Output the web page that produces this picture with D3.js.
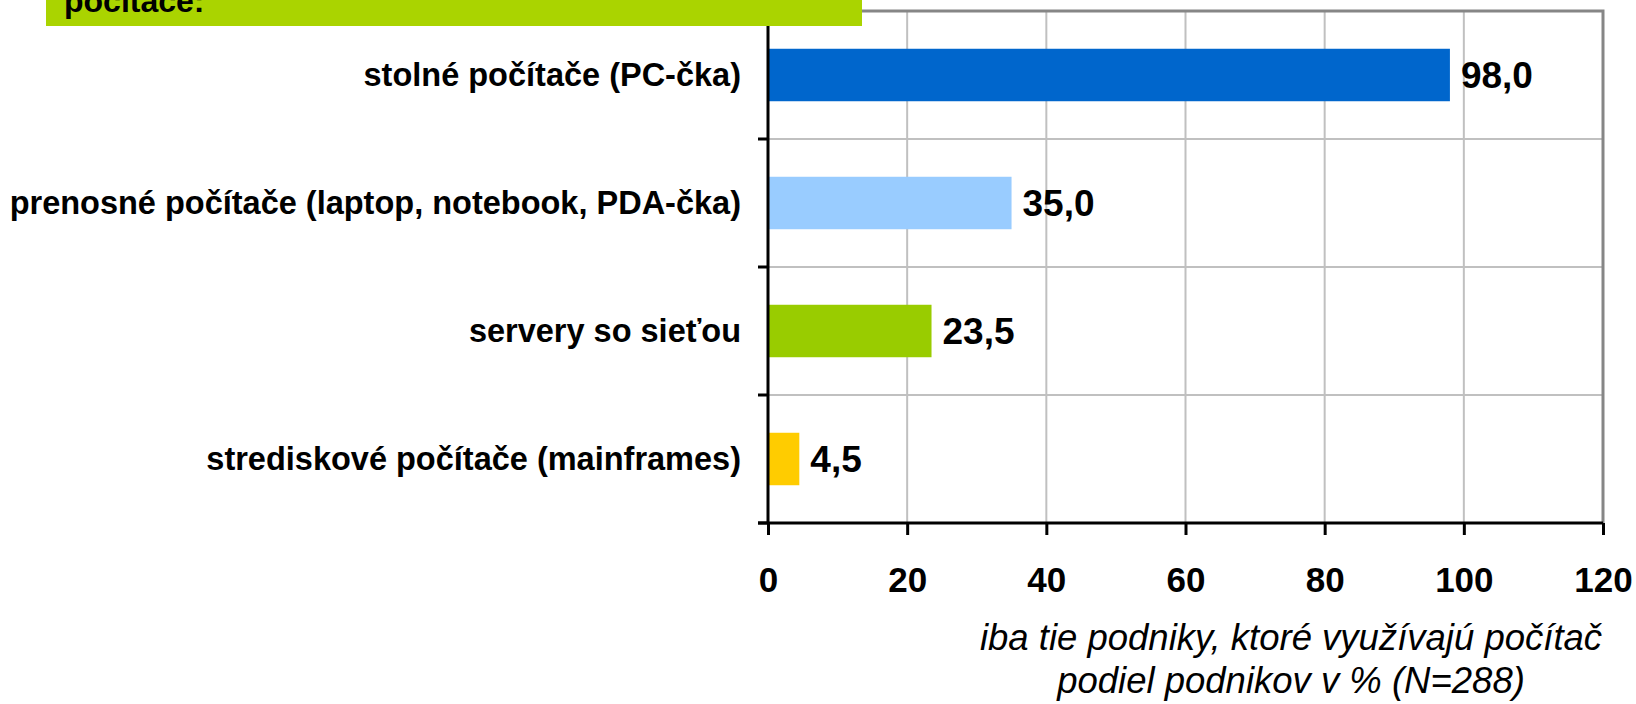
<!DOCTYPE html>
<html>
<head>
<meta charset="utf-8">
<script src="https://cdn.jsdelivr.net/npm/d3@7"></script>
<style>
  body { margin: 0; background: #fff; }
  svg { display: block; font-family: "Liberation Sans", Arial, sans-serif; }
</style>
</head>
<body>
<div id="chart-area"></div>
<script>
// data
var categories = [
    "stolné počítače (PC-čka)",
    "prenosné počítače (laptop, notebook, PDA-čka)",
    "servery so sieťou",
    "strediskové počítače (mainframes)"
];
var values = [98.0, 35.0, 23.5, 4.5];
var barColors = ["#0066CC", "#99CCFF", "#99CC00", "#FFCC00"];
var xTicks = [0, 20, 40, 60, 80, 100, 120];
var titleText = "počítače:";
var noteLines = ["iba tie podniky, ktoré využívajú počítač", "podiel podnikov v % (N=288)"];

var margin = { left: 768, top: 11, right: 33, bottom: 181 };
var width = 1636 - margin.left - margin.right;
var height = 704 - margin.top - margin.bottom;

var svg = d3.select("#chart-area")
    .append("svg")
    .attr("width", 1636)
    .attr("height", 704);

var g = svg.append("g")
    .attr("transform", "translate(" + margin.left + "," + margin.top + ")");

var data = categories.map(function (c, i) {
    return { name: c, value: values[i], color: barColors[i] };
});

var x = d3.scaleLinear()
    .domain([0, 120])
    .range([0, width]);

var y = d3.scaleBand()
    .domain(categories)
    .range([0, height])
    .paddingInner(0.59)
    .paddingOuter(0.295);

var fmt = d3.formatLocale({ decimal: ",", thousands: " ", grouping: [3], currency: ["", ""] }).format(".1f");

// vertical grid lines
g.selectAll(".vgrid")
    .data(xTicks.slice(1, -1))
    .enter().append("line")
    .attr("class", "vgrid")
    .attr("x1", d => x(d)).attr("x2", d => x(d))
    .attr("y1", 0).attr("y2", height)
    .attr("stroke", "#c0c0c0")
    .attr("stroke-width", 2);

// horizontal grid lines between categories
var bounds = d3.range(1, categories.length).map(i => i * height / categories.length);
g.selectAll(".hgrid")
    .data(bounds)
    .enter().append("line")
    .attr("class", "hgrid")
    .attr("x1", 0).attr("x2", width)
    .attr("y1", d => d).attr("y2", d => d)
    .attr("stroke", "#c0c0c0")
    .attr("stroke-width", 2);

// plot border top + right
g.append("path")
    .attr("d", "M0,0H" + width + "V" + height)
    .attr("fill", "none")
    .attr("stroke", "#868686")
    .attr("stroke-width", 3);

// bars
g.selectAll(".bar")
    .data(data)
    .enter().append("rect")
    .attr("class", "bar")
    .attr("x", x(0))
    .attr("y", d => y(d.name))
    .attr("width", d => x(d.value) - x(0))
    .attr("height", y.bandwidth())
    .attr("fill", d => d.color);

// value labels
g.selectAll(".val")
    .data(data)
    .enter().append("text")
    .attr("class", "val")
    .attr("x", d => x(d.value) + 11)
    .attr("y", d => y(d.name) + y.bandwidth() / 2)
    .attr("dy", "0.35em")
    .attr("style", "font-size: 37px; font-weight: bold")
    .text(d => fmt(d.value));

// category labels
g.selectAll(".cat")
    .data(data)
    .enter().append("text")
    .attr("class", "cat")
    .attr("x", -27)
    .attr("y", d => y(d.name) + y.bandwidth() / 2)
    .attr("dy", "0.35em")
    .attr("text-anchor", "end")
    .attr("style", "font-size: 32.5px; font-weight: bold")
    .text(d => d.name);

// y axis line + ticks
var yAxisG = g.append("g").attr("class", "y axis");
yAxisG.append("line")
    .attr("x1", 0).attr("x2", 0)
    .attr("y1", 0).attr("y2", height)
    .attr("stroke", "#000")
    .attr("stroke-width", 3);
yAxisG.selectAll(".ytick")
    .data(bounds.concat([height]))
    .enter().append("line")
    .attr("class", "ytick")
    .attr("x1", -10).attr("x2", 0)
    .attr("y1", d => d).attr("y2", d => d)
    .attr("stroke", "#000")
    .attr("stroke-width", 3);

// x axis
var xAxisCall = d3.axisBottom(x)
    .tickValues(xTicks)
    .tickSizeInner(12)
    .tickSizeOuter(0)
    .tickPadding(32)
    .tickFormat(d3.format("d"));
var xAxisG = g.append("g")
    .attr("class", "x axis")
    .attr("transform", "translate(0," + height + ")")
    .call(xAxisCall);
xAxisG.select(".domain")
    .attr("d", "M-10,0H" + width)
    .attr("stroke", "#000")
    .attr("stroke-width", 3);
xAxisG.selectAll(".tick line")
    .attr("stroke", "#000")
    .attr("stroke-width", 3);
xAxisG.selectAll(".tick text")
    .attr("fill", "#000")
    .attr("style", "font-size: 35px; font-weight: bold; font-family: 'Liberation Sans', Arial, sans-serif");

// note below axis
svg.selectAll(".note")
    .data(noteLines)
    .enter().append("text")
    .attr("class", "note")
    .attr("x", 1291)
    .attr("y", (d, i) => 650 + i * 43)
    .attr("text-anchor", "middle")
    .attr("style", "font-size: 36.5px; font-style: italic")
    .text(d => d);

// title box (cut off at top, as in the source)
svg.append("rect")
    .attr("x", 46).attr("y", 0)
    .attr("width", 816).attr("height", 26)
    .attr("fill", "#AAD400");
svg.append("text")
    .attr("x", 64).attr("y", 12)
    .attr("style", "font-size: 32px; font-weight: bold")
    .text(titleText);
</script>
</body>
</html>
